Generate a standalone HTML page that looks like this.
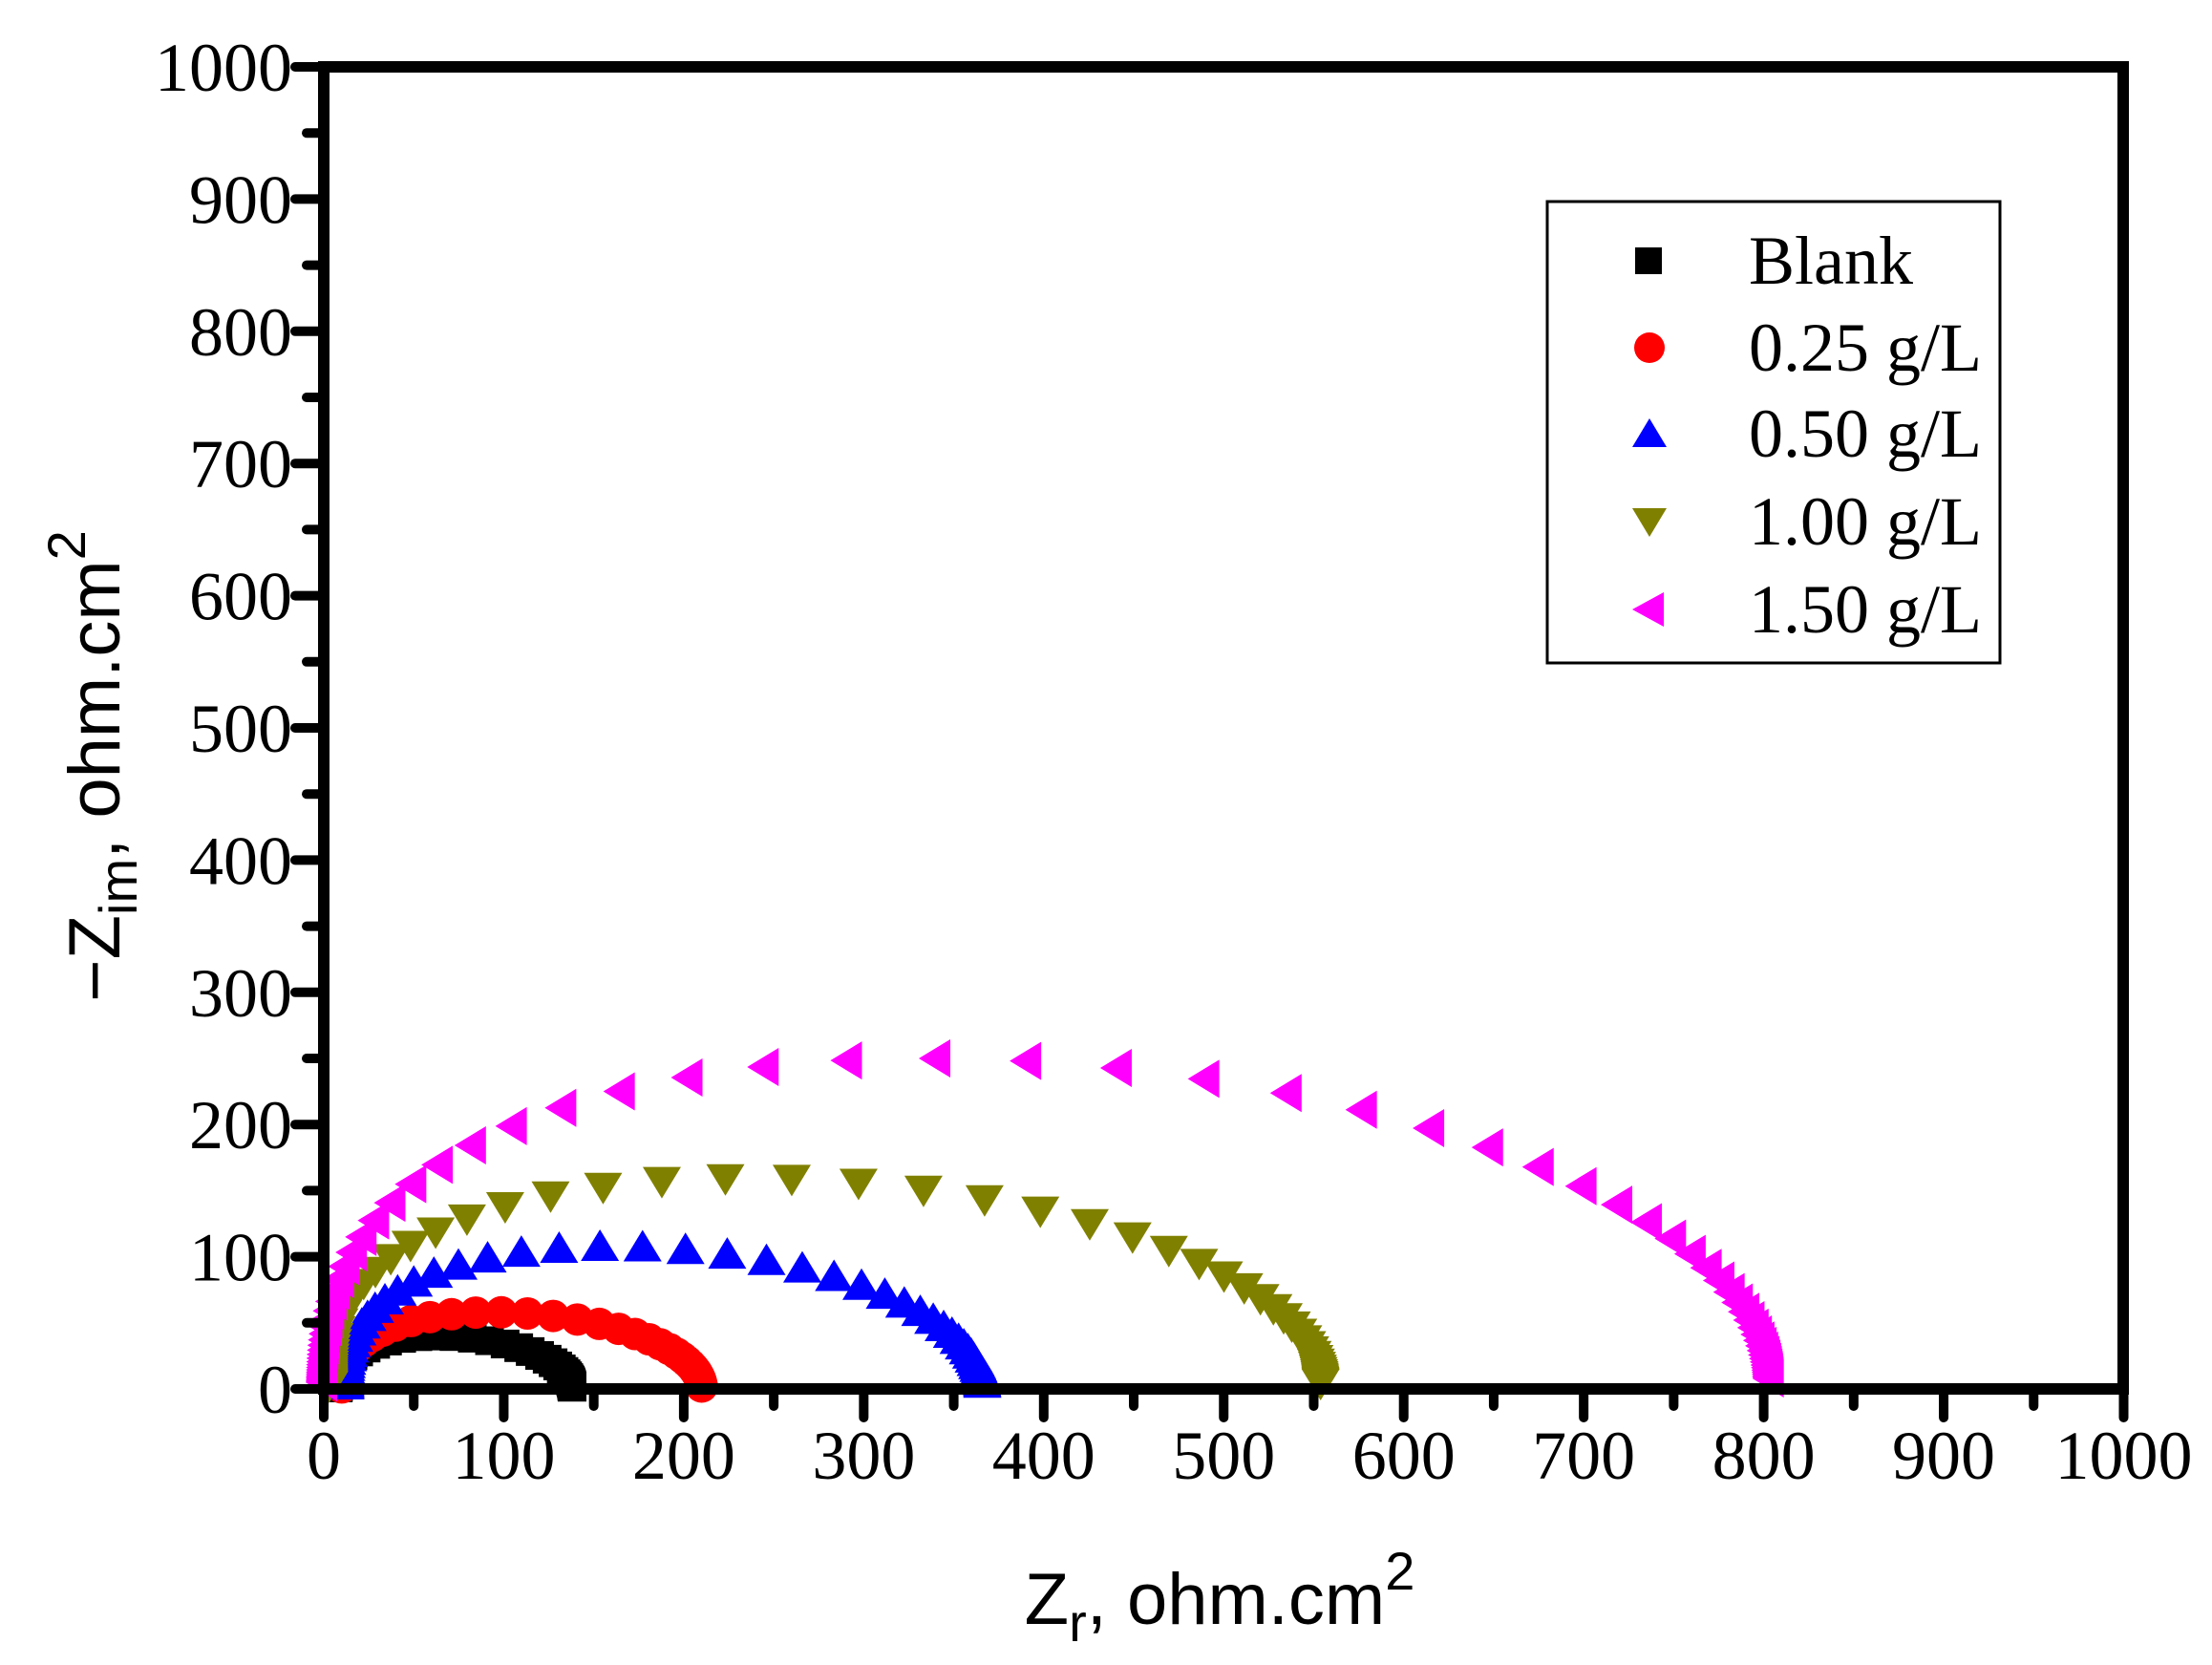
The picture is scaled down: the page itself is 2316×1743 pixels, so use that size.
<!DOCTYPE html>
<html><head><meta charset="utf-8"><style>
html,body{margin:0;padding:0;background:#fff;}
svg{display:block}
</style></head><body>
<svg id="s" width="2316" height="1743" viewBox="0 0 2316 1743" xmlns="http://www.w3.org/2000/svg">
<rect width="2316" height="1743" fill="#fff"/>
<g id="data"></g>
<rect x="339" y="70" width="1884" height="1384" fill="none" stroke="#000" stroke-width="12"/>
<g id="ticks" stroke="#000" stroke-width="10" stroke-linecap="round"></g>
<g id="labels" font-family="Liberation Serif, serif" font-size="72" fill="#000"></g>
<text x="1277" y="1700" font-family="Liberation Sans, sans-serif" font-size="76" text-anchor="middle">Z<tspan font-size="56" dy="18">r</tspan><tspan dy="-18">, ohm.cm</tspan><tspan font-size="56" dy="-36">2</tspan></text>
<text transform="translate(125,802) rotate(-90)" font-family="Liberation Sans, sans-serif" font-size="76" text-anchor="middle">−Z<tspan font-size="56" dy="18">im</tspan><tspan dy="-18">, ohm.cm</tspan><tspan font-size="56" dy="-36">2</tspan></text>
<rect x="1620" y="211" width="474" height="483" fill="#fff" stroke="#000" stroke-width="3"/>
<g font-family="Liberation Serif, serif" font-size="72">
<rect x="1712" y="259" width="28" height="28" fill="#000"/>
<text x="1831" y="297">Blank</text>
<circle cx="1727" cy="364" r="16" fill="#f00"/>
<text x="1831" y="388">0.25 g/L</text>
<polygon points="1727,438 1745,468 1709,468" fill="#00f"/>
<text x="1831" y="478">0.50 g/L</text>
<polygon points="1709,532 1745,532 1727,562" fill="#808000"/>
<text x="1831" y="570">1.00 g/L</text>
<polygon points="1709,638 1742,620 1742,656" fill="#f0f"/>
<text x="1831" y="662">1.50 g/L</text>
</g>
</svg>
<script>
var X=function(v){return 339+v*1.8845}, Y=function(v){return 1454-v*1.384};
var ns="http://www.w3.org/2000/svg";
var t=document.getElementById('ticks'), L=document.getElementById('labels'), D=document.getElementById('data');
function el(n,a,p){var e=document.createElementNS(ns,n);for(var k in a)e.setAttribute(k,a[k]);p.appendChild(e);return e;}
for(var v=0;v<=1000;v+=50){
 var maj=v%100==0, len=maj?24:12;
 el('line',{x1:X(v),y1:1454,x2:X(v),y2:1454+len+6},t);
 el('line',{x1:339,y1:Y(v),x2:339-len-6,y2:Y(v)},t);
 if(maj){
  var a=el('text',{x:X(v),y:1548,'text-anchor':'middle'},L);a.textContent=v;
  var b=el('text',{x:306,y:Y(v)+25,'text-anchor':'end'},L);b.textContent=v;
 }
}
var S=[
 {x0:8,x1:138,h:40,c:'#000',m:'sq',n:60},
 {x0:10,x1:210,h:58,c:'#f00',m:'ci',n:65},
 {x0:12,x1:366,h:107,c:'#00f',m:'up',n:70},
 {x0:3,x1:554,h:160,c:'#808000',m:'dn',n:70},
 {x0:0,x1:804,h:250,c:'#f0f',m:'lt',n:75}
];
S.forEach(function(s){
 for(var i=0;i<s.n;i++){
  var w=Math.pow(10,-1.8+3.8*i/(s.n-1));
  var th=2*Math.atan(w);
  var u=Math.pow((1+Math.cos(th))/2,1.25);
  var x=X(s.x0+(s.x1-s.x0)*u), y=Y(s.h*Math.sin(th));
  if(s.m=='sq') el('rect',{x:x-15,y:y-15,width:30,height:30,fill:s.c},D);
  else if(s.m=='ci') el('circle',{cx:x,cy:y,r:17,fill:s.c},D);
  else if(s.m=='up') el('polygon',{points:(x)+','+(y-19)+' '+(x+20)+','+(y+14)+' '+(x-20)+','+(y+14),fill:s.c},D);
  else if(s.m=='dn') el('polygon',{points:(x-20)+','+(y-14)+' '+(x+20)+','+(y-14)+' '+(x)+','+(y+19),fill:s.c},D);
  else el('polygon',{points:(x-19)+','+y+' '+(x+14)+','+(y-20)+' '+(x+14)+','+(y+20),fill:s.c},D);
 }
});
</script>
</body></html>
